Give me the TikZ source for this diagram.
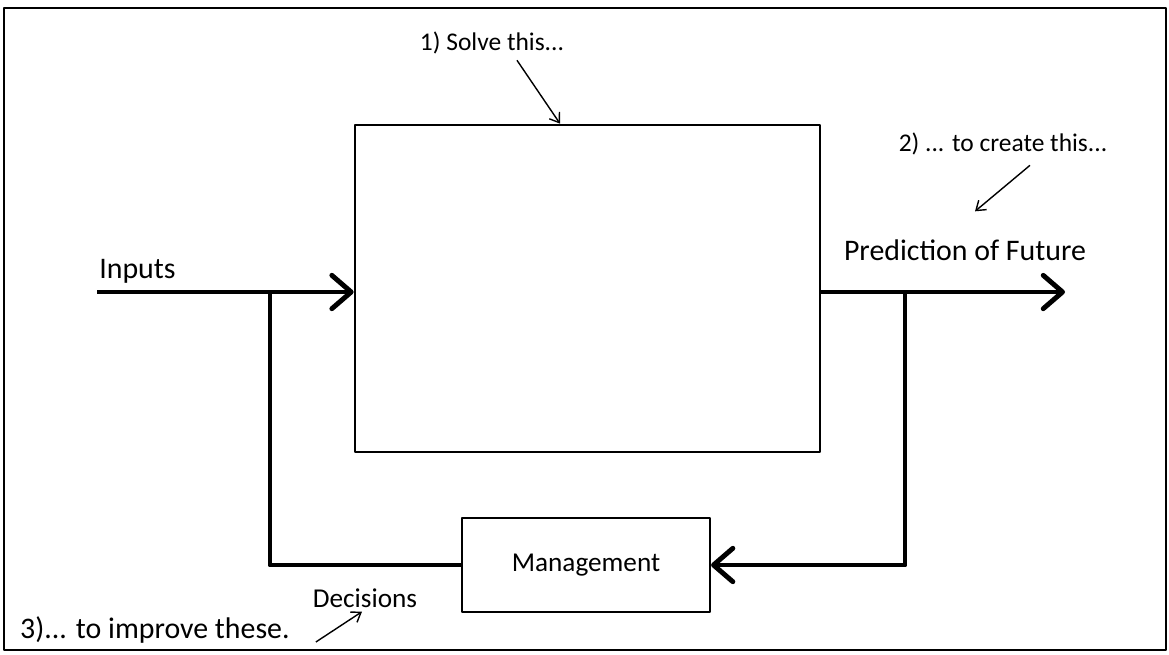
\documentclass[tikz,border=0pt]{standalone}
\usepackage{fontspec}
\setmainfont{Carlito}
\usepackage{tikz}
\usetikzlibrary{arrows.meta,calc,positioning}

\begin{document}
\begin{tikzpicture}[x=0.02cm,y=-0.02cm,line join=round,font=\fontsize{15.5}{18}\selectfont,
  flow/.style={line width=2.8pt,-{Straight Barb[length=11pt,width=19pt,round]}},
  pipe/.style={line width=2.8pt},
  pointer/.style={line width=0.8pt,-{Straight Barb[length=5pt,width=7pt]}},
  blk/.style={draw,inner sep=0pt},
  big/.style={font=\fontsize{17}{20}\selectfont},
  note/.style={font=\fontsize{14.5}{17}\selectfont}]
  \useasboundingbox (0,0) rectangle (1169,654);
  \draw[line width=1.1pt] (4,8) rectangle (1166,650);
  % blocks
  \node[blk,line width=1.6pt,minimum width=9.3cm,minimum height=6.54cm] (model) at (587.5,288.5) {};
  \node[blk,line width=1.2pt,minimum width=4.96cm,minimum height=1.88cm] (mgmt) at (586,565) {Management};
  % main flow
  \coordinate (in) at (97,292); \coordinate (out) at (1065,292);
  \coordinate (split) at (270,292); \coordinate (tap) at (905,292);
  \draw[flow] (in) -- (model.west|-in);
  \draw[flow] (model.east|-out) -- (out);
  \draw[pipe] (split) |- (mgmt.west);
  \draw[flow] (tap) |- (mgmt.east);
  % labels
  \node[big,anchor=south west,inner sep=0pt] (inlbl) at (99,284) {Inputs};
  \node[big] (pred) at (965,250) {Prediction of Future};
  \node (dec) at (365,598) {Decisions};
  \node[note] (solve) at (492,43) {1) Solve this...};
  \node[note] (create) at (1003,144) {2) ... to create this...};
  \node[big,anchor=west] (improve) at (14,630) {3)... to improve these.};
  % notes
  \draw[pointer] ([xshift=0.5cm]solve.south) -- ([xshift=-0.55cm]model.north);
  \draw[pointer] ($(create.south)+(27,4)$) -- ($(pred.north)+(10,-22)$);
  \draw[pointer] ($(improve.east)+(20,12)$) -- ($(dec.south)+(-3,-2)$);
\end{tikzpicture}
\end{document}
